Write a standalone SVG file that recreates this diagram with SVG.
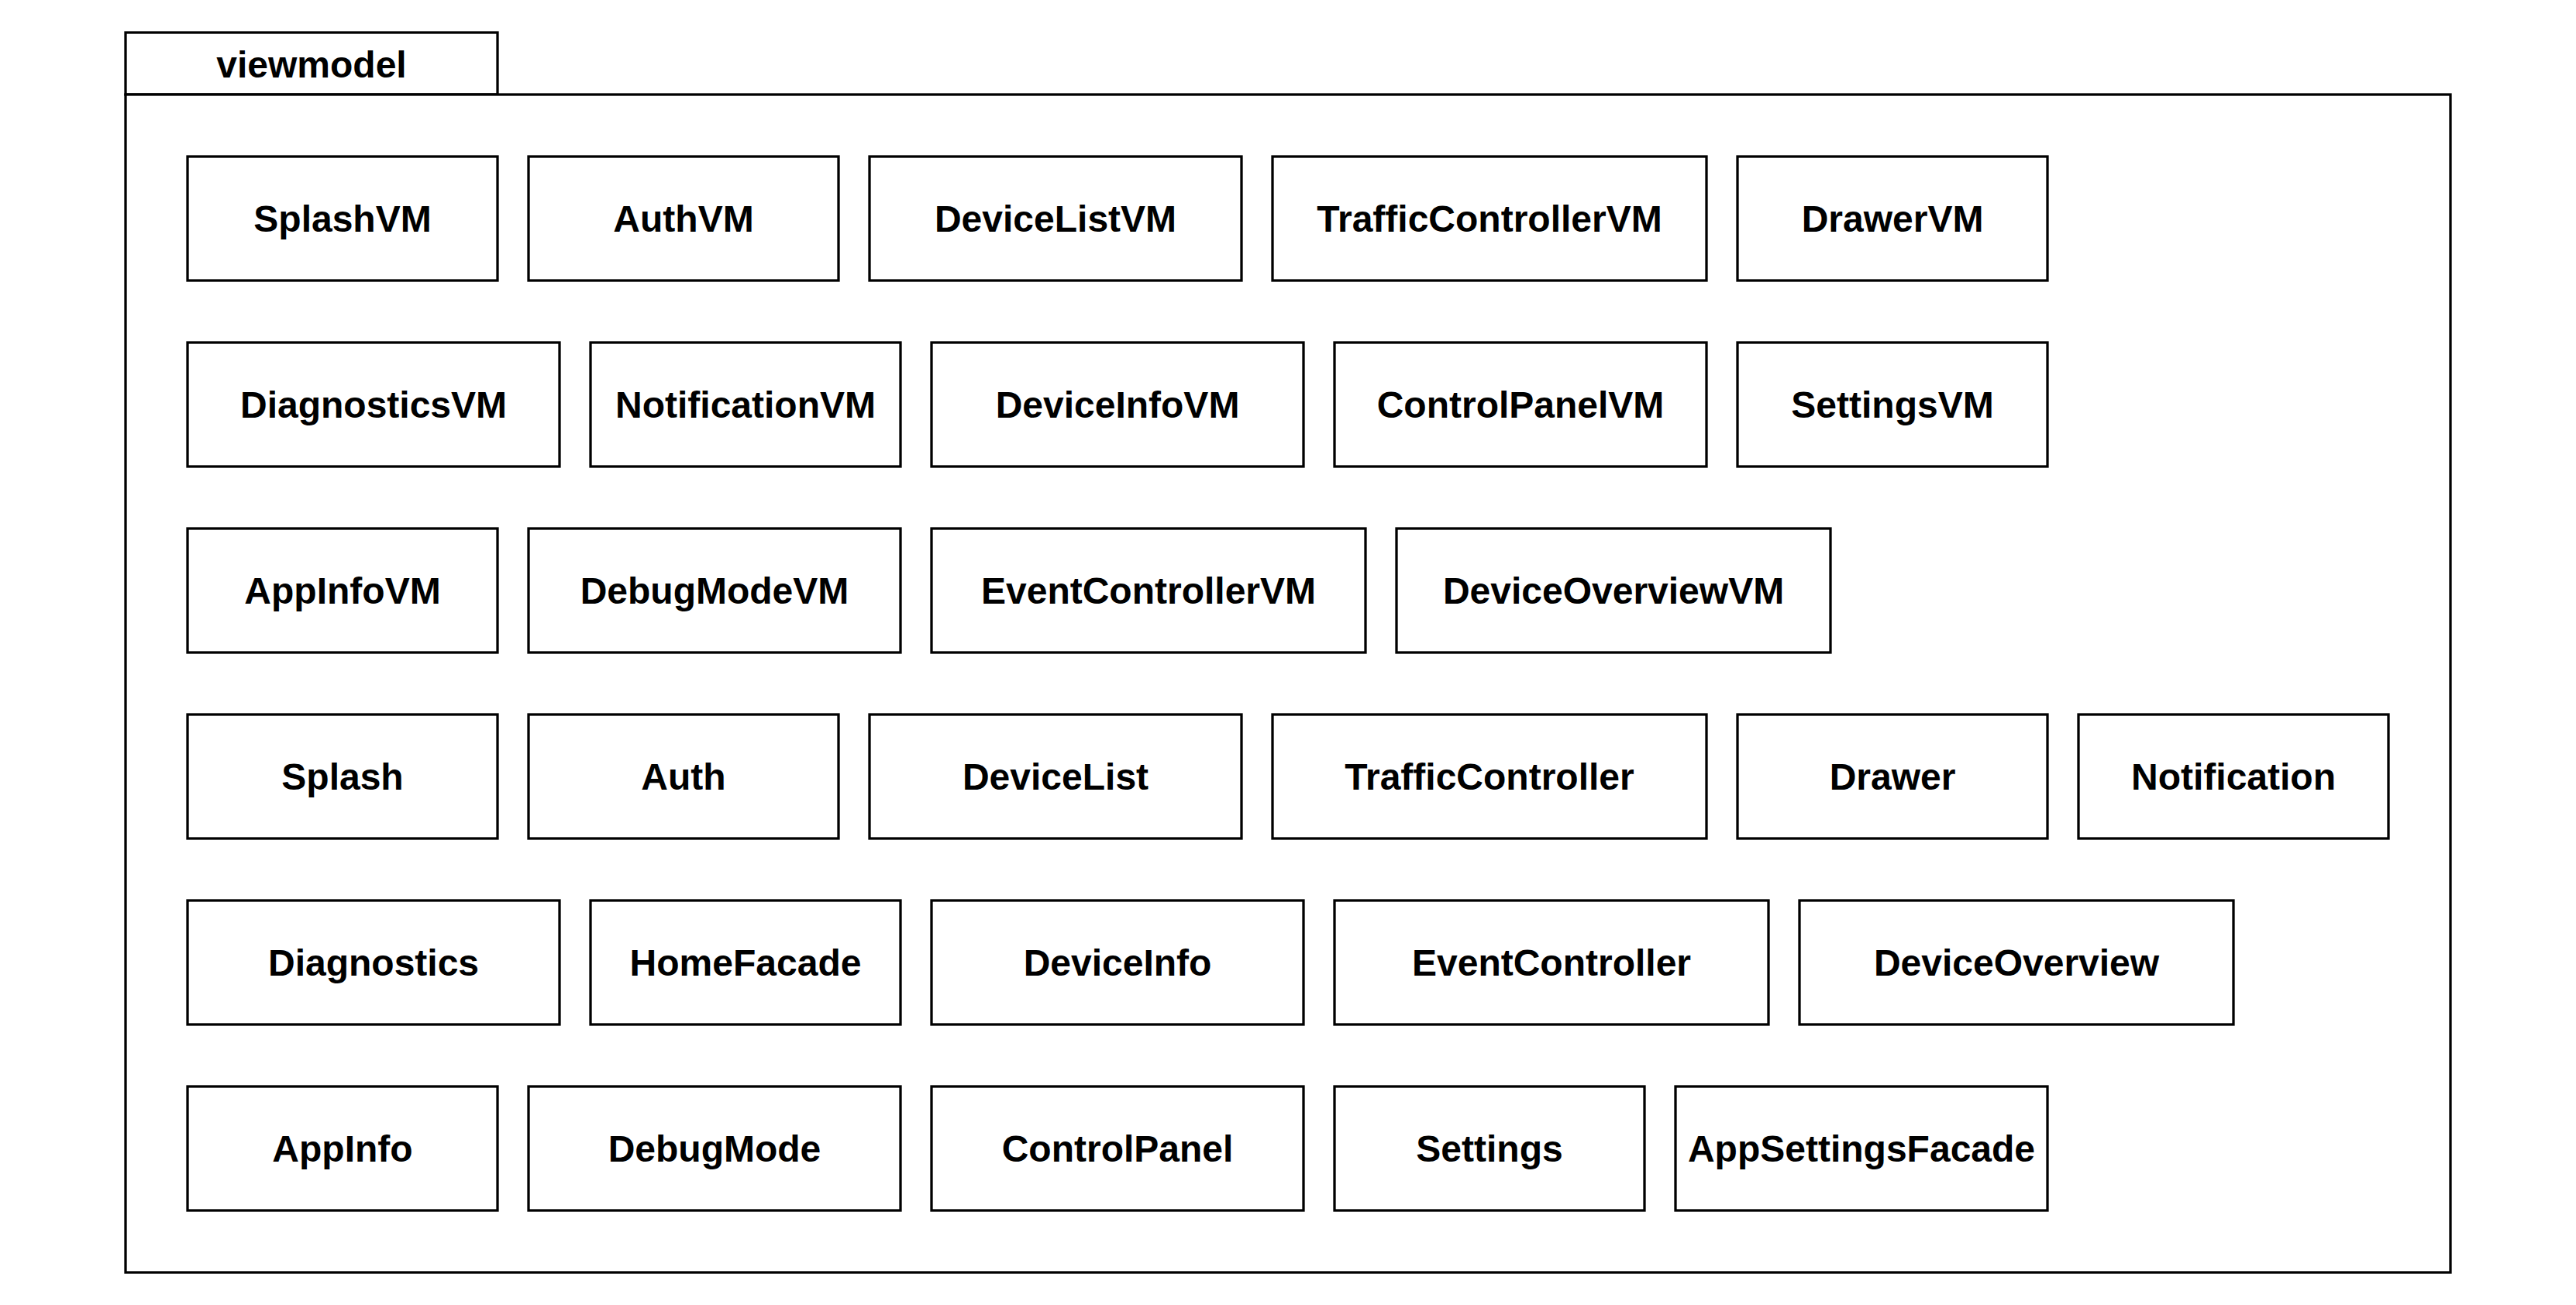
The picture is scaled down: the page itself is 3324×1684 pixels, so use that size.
<svg xmlns="http://www.w3.org/2000/svg" width="3324" height="1684" viewBox="0 0 3324 1684">
<style>
.box{fill:#fff;stroke:#000;stroke-width:3.3}
.lbl{font-family:"Liberation Sans",Arial,Helvetica,sans-serif;font-weight:bold;font-size:48px;fill:#000;text-anchor:middle}
</style>
<rect width="3324" height="1684" fill="#fff"/>
<g id="package-viewmodel">
<rect class="box" x="162" y="42" width="480" height="80"/>
<rect class="box" x="162" y="122" width="3000" height="1520"/>
<text class="lbl" x="402" y="100">viewmodel</text>
</g>
<g id="n-SplashVM"><rect class="box" x="242" y="202" width="400" height="160"/><text class="lbl" x="442" y="299">SplashVM</text></g>
<g id="n-AuthVM"><rect class="box" x="682" y="202" width="400" height="160"/><text class="lbl" x="882" y="299">AuthVM</text></g>
<g id="n-DeviceListVM"><rect class="box" x="1122" y="202" width="480" height="160"/><text class="lbl" x="1362" y="299">DeviceListVM</text></g>
<g id="n-TrafficControllerVM"><rect class="box" x="1642" y="202" width="560" height="160"/><text class="lbl" x="1922" y="299">TrafficControllerVM</text></g>
<g id="n-DrawerVM"><rect class="box" x="2242" y="202" width="400" height="160"/><text class="lbl" x="2442" y="299">DrawerVM</text></g>

<g id="n-DiagnosticsVM"><rect class="box" x="242" y="442" width="480" height="160"/><text class="lbl" x="482" y="539">DiagnosticsVM</text></g>
<g id="n-NotificationVM"><rect class="box" x="762" y="442" width="400" height="160"/><text class="lbl" x="962" y="539">NotificationVM</text></g>
<g id="n-DeviceInfoVM"><rect class="box" x="1202" y="442" width="480" height="160"/><text class="lbl" x="1442" y="539">DeviceInfoVM</text></g>
<g id="n-ControlPanelVM"><rect class="box" x="1722" y="442" width="480" height="160"/><text class="lbl" x="1962" y="539">ControlPanelVM</text></g>
<g id="n-SettingsVM"><rect class="box" x="2242" y="442" width="400" height="160"/><text class="lbl" x="2442" y="539">SettingsVM</text></g>

<g id="n-AppInfoVM"><rect class="box" x="242" y="682" width="400" height="160"/><text class="lbl" x="442" y="779">AppInfoVM</text></g>
<g id="n-DebugModeVM"><rect class="box" x="682" y="682" width="480" height="160"/><text class="lbl" x="922" y="779">DebugModeVM</text></g>
<g id="n-EventControllerVM"><rect class="box" x="1202" y="682" width="560" height="160"/><text class="lbl" x="1482" y="779">EventControllerVM</text></g>
<g id="n-DeviceOverviewVM"><rect class="box" x="1802" y="682" width="560" height="160"/><text class="lbl" x="2082" y="779">DeviceOverviewVM</text></g>

<g id="n-Splash"><rect class="box" x="242" y="922" width="400" height="160"/><text class="lbl" x="442" y="1019">Splash</text></g>
<g id="n-Auth"><rect class="box" x="682" y="922" width="400" height="160"/><text class="lbl" x="882" y="1019">Auth</text></g>
<g id="n-DeviceList"><rect class="box" x="1122" y="922" width="480" height="160"/><text class="lbl" x="1362" y="1019">DeviceList</text></g>
<g id="n-TrafficController"><rect class="box" x="1642" y="922" width="560" height="160"/><text class="lbl" x="1922" y="1019">TrafficController</text></g>
<g id="n-Drawer"><rect class="box" x="2242" y="922" width="400" height="160"/><text class="lbl" x="2442" y="1019">Drawer</text></g>
<g id="n-Notification"><rect class="box" x="2682" y="922" width="400" height="160"/><text class="lbl" x="2882" y="1019">Notification</text></g>

<g id="n-Diagnostics"><rect class="box" x="242" y="1162" width="480" height="160"/><text class="lbl" x="482" y="1259">Diagnostics</text></g>
<g id="n-HomeFacade"><rect class="box" x="762" y="1162" width="400" height="160"/><text class="lbl" x="962" y="1259">HomeFacade</text></g>
<g id="n-DeviceInfo"><rect class="box" x="1202" y="1162" width="480" height="160"/><text class="lbl" x="1442" y="1259">DeviceInfo</text></g>
<g id="n-EventController"><rect class="box" x="1722" y="1162" width="560" height="160"/><text class="lbl" x="2002" y="1259">EventController</text></g>
<g id="n-DeviceOverview"><rect class="box" x="2322" y="1162" width="560" height="160"/><text class="lbl" x="2602" y="1259">DeviceOverview</text></g>

<g id="n-AppInfo"><rect class="box" x="242" y="1402" width="400" height="160"/><text class="lbl" x="442" y="1499">AppInfo</text></g>
<g id="n-DebugMode"><rect class="box" x="682" y="1402" width="480" height="160"/><text class="lbl" x="922" y="1499">DebugMode</text></g>
<g id="n-ControlPanel"><rect class="box" x="1202" y="1402" width="480" height="160"/><text class="lbl" x="1442" y="1499">ControlPanel</text></g>
<g id="n-Settings"><rect class="box" x="1722" y="1402" width="400" height="160"/><text class="lbl" x="1922" y="1499">Settings</text></g>
<g id="n-AppSettingsFacade"><rect class="box" x="2162" y="1402" width="480" height="160"/><text class="lbl" x="2402" y="1499">AppSettingsFacade</text></g>

<g id="connectors"></g>
</svg>
